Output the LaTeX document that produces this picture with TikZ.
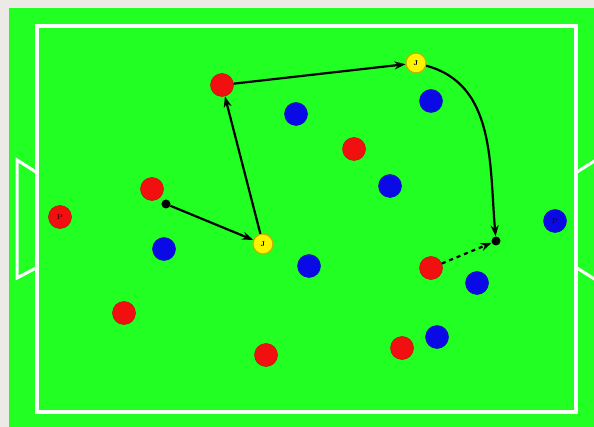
\documentclass[tikz,border=0pt]{standalone}
\usepackage{tikz}
\usetikzlibrary{arrows.meta,positioning}
\definecolor{pitchgreen}{HTML}{22FF22}
\definecolor{paper}{HTML}{ECEAE6}
\definecolor{teamred}{HTML}{F20F0F}
\definecolor{teamblue}{HTML}{0A0AE6}
\definecolor{jokeryellow}{HTML}{FFF200}

\begin{document}
\begin{tikzpicture}[
    x=1pt, y=-1pt,
    red/.style={circle, fill=teamred, draw=teamred!80!black, line width=0.5pt,
                minimum size=23pt, inner sep=0pt},
    blue/.style={circle, fill=teamblue, draw=teamblue!80!black, line width=0.5pt,
                 minimum size=23pt, inner sep=0pt},
    joker/.style={circle, fill=jokeryellow, draw=jokeryellow!75!black, line width=1.2pt,
                  minimum size=20pt, inner sep=0pt, font=\scriptsize\bfseries},
    ball/.style={circle, fill=black, minimum size=9pt, inner sep=0pt},
    run/.style={-{Stealth[length=11pt,width=8pt]}, line width=2.2pt, black},
    lines/.style={draw=white, line width=4pt}
  ]
    \useasboundingbox (0,0) rectangle (594,427);
    \fill[paper] (0,0) rectangle (594,427);
    \fill[pitchgreen] (9,8) rectangle (594,427);

    % Pitch markings
    \draw[lines] (37,26) rectangle (576,412);
    \draw[lines, line width=3pt] (36,172) -- (17,160) -- (17,278) -- (36,268);
    \draw[lines, line width=3pt] (577,172) -- (596,160);
    \draw[lines, line width=3pt] (577,268) -- (596,280);

    % Red team
    \node[red] (r1) at (222,85) {};
    \node[red] (r2) at (354,149) {};
    \node[red] (r3) at (152,189) {};
    \node[red] (rk) at (60,217) {\scriptsize\bfseries\color{teamred!35!black}P};
    \node[red] (r4) at (124,313) {};
    \node[red] (r5) at (266,355) {};
    \node[red] (r6) at (431,268) {};
    \node[red] (r7) at (402,348) {};

    % Blue team
    \node[blue] (b1) at (296,114) {};
    \node[blue] (b2) at (431,101) {};
    \node[blue] (b3) at (390,186) {};
    \node[blue] (b4) at (164,249) {};
    \node[blue] (b5) at (309,266) {};
    \node[blue] (b6) at (477,283) {};
    \node[blue] (b7) at (437,337) {};
    \node[blue] (bk) at (555,221) {\scriptsize\bfseries\color{teamblue!35!black}P};

    % Jokers and ball
    \node[joker] (j1) at (263,244) {J};
    \node[joker] (j2) at (416,63) {J};
    \node[ball] (start) at (166,204) {};
    \node[ball] (goal) at (496,241) {};

    \draw[run] (start) -- (j1);
    \draw[run] (j1) -- (r1);
    \draw[run] (r1) -- (j2);
    \draw[run] (j2) to[out=-15, in=95, looseness=1] (goal);
    \draw[run, dash pattern=on 4pt off 4pt] (r6) -- (goal);
  \end{tikzpicture}
\end{document}
